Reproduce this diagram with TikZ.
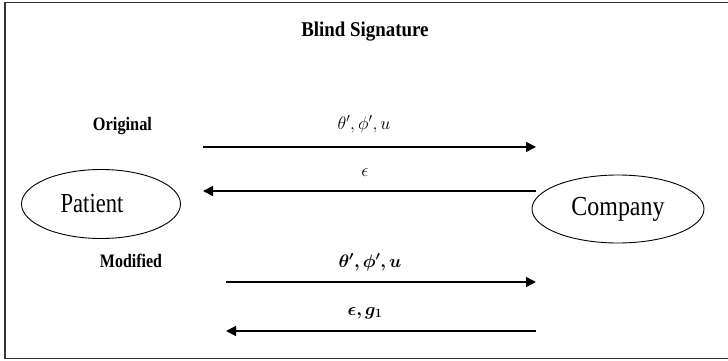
\RequirePackage{fix-cm}
\documentclass[tikz,border=0pt]{standalone}
\usepackage{fontspec}
\setmainfont{Liberation Serif}
\usepackage{graphicx}
\usepackage{bm}
\usetikzlibrary{arrows.meta,shapes.geometric}
\begin{document}
\begin{tikzpicture}[x=1pt,y=-1pt,
  frame/.style={draw=black!80,line width=1.6pt},
  party/.style={ellipse,draw,line width=0.9pt,inner sep=0pt},
  msg/.style={line width=1.5pt,-{Triangle[length=10pt,width=10pt]}},
  lbl/.style={inner sep=0pt,anchor=base},
  boldlbl/.style={lbl,font=\fontsize{19}{22}\selectfont\bfseries},
  mathlbl/.style={lbl,font=\fontsize{18}{21}\selectfont}]
\useasboundingbox (0,0) rectangle (728,361);
\clip (0,0) rectangle (728,361);
\draw[frame] (5,2.5) rectangle (745,358.5);

\node[lbl,font=\fontsize{21}{24}\selectfont\bfseries] (title) at (365,37) {\scalebox{0.9}[1]{Blind Signature}};
\node[boldlbl] (orig) at (122.5,130) {\scalebox{0.86}[1]{Original}};
\node[boldlbl] (modi) at (131,267) {\scalebox{0.84}[1]{Modified}};

\node[party,minimum width=159pt,minimum height=69pt,font=\fontsize{27.5}{30}\selectfont] (patient) at (101,204) {\scalebox{0.82}[1]{Patient}\hspace*{18pt}};
\node[party,minimum width=172pt,minimum height=68pt,font=\fontsize{27.5}{30}\selectfont] (company) at (618,209) {\scalebox{0.87}[1]{Company}};

\coordinate (a1s) at (203,147); \coordinate (a1e) at (536,147);
\coordinate (a2s) at (536,191); \coordinate (a2e) at (203,191);
\coordinate (a3s) at (226,282); \coordinate (a3e) at (536,282);
\coordinate (a4s) at (536,331); \coordinate (a4e) at (226,331);
\draw[msg] (a1s) -- (a1e);
\draw[msg] (a2s) -- (a2e);
\draw[msg] (a3s) -- (a3e);
\draw[msg] (a4s) -- (a4e);

\node[mathlbl] (m1) at (364,129) {$\theta',\phi',u$};
\node[mathlbl] (m2) at (365,176) {$\epsilon$};
\node[mathlbl] (m3) at (370,267) {$\bm{\theta',\phi',u}$};
\node[mathlbl] (m4) at (365,315) {$\bm{\epsilon,g_1}$};
\end{tikzpicture}
\end{document}
